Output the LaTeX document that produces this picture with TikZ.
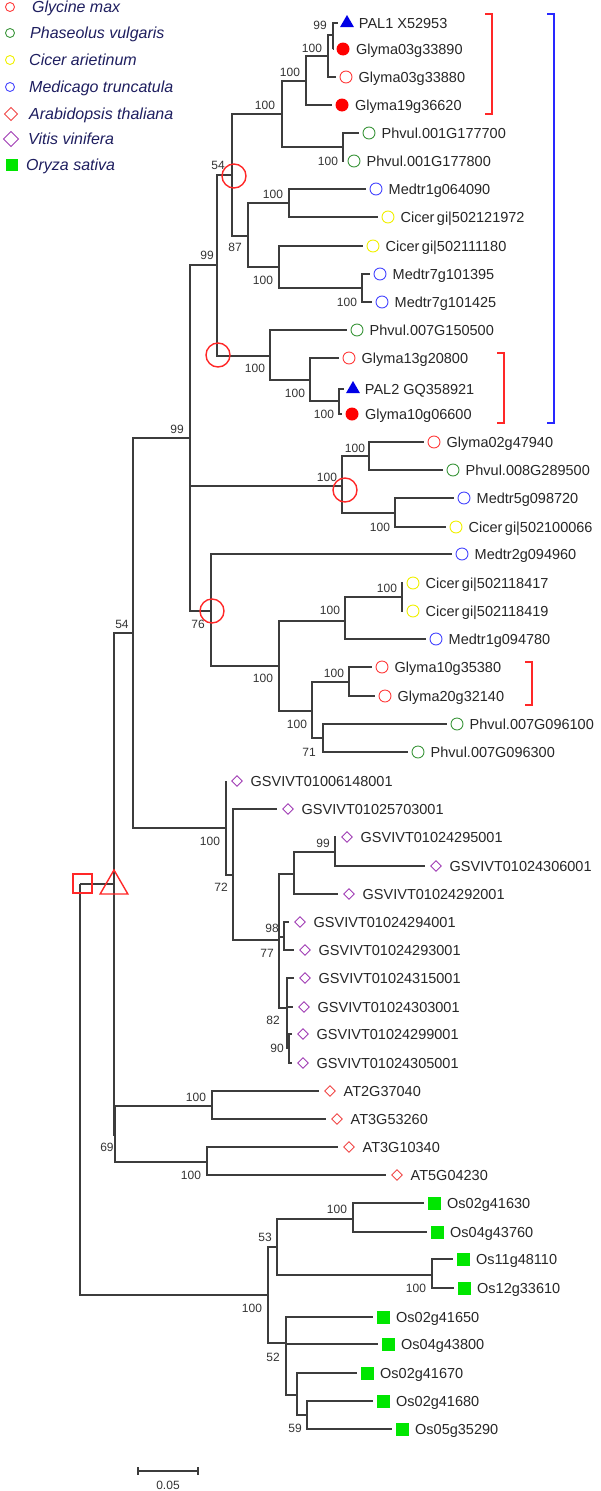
\documentclass[tikz,border=0pt]{standalone}
\usepackage{fontspec}
\setmainfont{Liberation Sans}
\usetikzlibrary{shapes.geometric}
\definecolor{glyred}{RGB}{255,60,60}
\definecolor{phagreen}{RGB}{60,150,60}
\definecolor{cicyellow}{RGB}{240,240,0}
\definecolor{medblue}{RGB}{70,70,255}
\definecolor{arared}{RGB}{240,70,70}
\definecolor{vitpurple}{RGB}{160,60,180}
\definecolor{orygreen}{RGB}{0,230,0}
\definecolor{palblue}{RGB}{0,0,230}
\definecolor{legnavy}{RGB}{30,30,95}
\definecolor{branchgray}{RGB}{60,60,60}
\definecolor{markred}{RGB}{255,40,40}
\definecolor{clblue}{RGB}{40,40,255}
\begin{document}
\begin{tikzpicture}[x=1pt,y=-1pt,
  branch/.style={draw=branchgray,line width=1.1pt},
  leafsym/.style={inner sep=0pt,outer sep=4pt,line width=0.9pt},
  glyO/.style={leafsym,circle,draw=glyred,minimum size=12pt},
  glyF/.style={leafsym,circle,fill=red,minimum size=13pt},
  phaO/.style={leafsym,circle,draw=phagreen,minimum size=12pt},
  cicO/.style={leafsym,circle,draw=cicyellow,minimum size=12pt},
  medO/.style={leafsym,circle,draw=medblue,minimum size=12pt},
  araD/.style={leafsym,diamond,draw=arared,minimum size=14pt},
  vitD/.style={leafsym,diamond,draw=vitpurple,minimum size=14pt},
  oryS/.style={leafsym,rectangle,fill=orygreen,minimum size=13pt},
  palT/.style={leafsym,regular polygon,regular polygon sides=3,fill=palblue,minimum size=16pt},
  taxon/.style={anchor=west,inner sep=2.5pt,text height=10.4pt,text depth=0pt,text=black!85,font=\fontsize{14.5}{16}\selectfont},
  boot/.style={inner sep=0pt,text height=8.6pt,text depth=0pt,text=black!80,font=\fontsize{12}{14}\selectfont},
  legtext/.style={anchor=west,inner sep=0pt,text height=11.5pt,text depth=0pt,text=legnavy,font=\fontsize{16}{18}\selectfont\itshape},
  bigO/.style={circle,draw=markred,line width=1.4pt,minimum size=24pt,inner sep=0pt},
  bigS/.style={rectangle,draw=markred,line width=1.4pt,minimum size=19pt,inner sep=0pt},
  bigT/.style={regular polygon,regular polygon sides=3,draw=markred,line width=1.4pt,minimum size=32pt,inner sep=0pt},
  clade/.style={line width=1.6pt}]
\useasboundingbox (0,0) rectangle (600,1491);

% legend
\foreach \s/\sz/\x/\y/\tx/\t [count=\i] in {glyO/9/10/7/32/Glycine max,phaO/9/10/33/30/Phaseolus vulgaris,
  cicO/9/10/60/29/Cicer arietinum,medO/9/10/87/29/Medicago truncatula,araD/13/11/114/29/Arabidopsis thaliana,
  vitD/15/11/139/28/Vitis vinifera,oryS/12/12/165/26/Oryza sativa}{
  \node[\s,minimum size=\sz pt,outer sep=0pt] (key\i) at (\x,\y) {};
  \node[legtext] (keytext\i) at (\tx,\y) {\t};
}

% internal nodes
\foreach \n/\x/\y in {nPAL1/333/35,n100a/328/56,n100b/306/81,nPh1/343/147,n100c/282/114,nA/232/175,
  n87/248/236,nM/289/203,nC/279/267,nMed7/362/288,n99a/217/265,nP/270/356,nG/310/380,nPAL2/339/401,
  nQ/342/486,nQ1/369/456,nQ2/395/513,n76/211/611,nR/279/666,nS/345/621,nCic/402/597,nT/312/711,
  nU/349/682,nV/323/738,n99b/190/438,n54b/133/633,nVit/226/828,nW/233/875,nX/279/940,nY/294/874,
  n99c/335/852,n98/284/937,n82/287/1008,n90/289/1048,nTri/114/884,n69/115/1135,nAT1/212/1106,
  nAT2/207/1162,nRoot/80/884,nOs/268/1295,n53/277/1247,nOs1/353/1219,nOs2/432/1275,n52/286/1343,
  nOs3/297/1395,n59/307/1415}
  \coordinate (\n) at (\x,\y);

% leaves
\foreach \n/\s/\x/\y/\t in {pal1/palT/347/23/PAL1 X52953,g1/glyF/343/49/Glyma03g33890,g2/glyO/346/77/Glyma03g33880,
  g3/glyF/342/105/Glyma19g36620,p1/phaO/369/133/Phvul.001G177700,p2/phaO/354/161/Phvul.001G177800,
  m1/medO/376/189/Medtr1g064090,c1/cicO/388/217/Cicer\,gi|502121972,c2/cicO/373/246/Cicer\,gi|502111180,
  m2/medO/380/274/Medtr7g101395,m3/medO/382/302/Medtr7g101425,p3/phaO/357/330/Phvul.007G150500,
  g4/glyO/349/358/Glyma13g20800,pal2/palT/353/389/PAL2 GQ358921,g5/glyF/352/414/Glyma10g06600,
  g6/glyO/434/442/Glyma02g47940,p4/phaO/453/470/Phvul.008G289500,m4/medO/464/498/Medtr5g098720,
  c3/cicO/456/527/Cicer\,gi|502100066,m5/medO/462/554/Medtr2g094960,c4/cicO/413/583/Cicer\,gi|502118417,
  c5/cicO/413/611/Cicer\,gi|502118419,m6/medO/436/639/Medtr1g094780,g7/glyO/382/667/Glyma10g35380,
  g8/glyO/385/696/Glyma20g32140,p5/phaO/457/724/Phvul.007G096100,p6/phaO/418/752/Phvul.007G096300,
  v1/vitD/237/781/GSVIVT01006148001,v2/vitD/288/809/GSVIVT01025703001,v3/vitD/347/837/GSVIVT01024295001,
  v4/vitD/436/866/GSVIVT01024306001,v5/vitD/349/894/GSVIVT01024292001,v6/vitD/300/922/GSVIVT01024294001,
  v7/vitD/305/950/GSVIVT01024293001,v8/vitD/305/978/GSVIVT01024315001,v9/vitD/304/1007/GSVIVT01024303001,
  v10/vitD/303/1034/GSVIVT01024299001,v11/vitD/303/1063/GSVIVT01024305001,a1/araD/330/1091/AT2G37040,
  a2/araD/337/1119/AT3G53260,a3/araD/349/1147/AT3G10340,a4/araD/397/1175/AT5G04230,
  o1/oryS/434/1203/Os02g41630,o2/oryS/437/1232/Os04g43760,o3/oryS/463/1259/Os11g48110,
  o4/oryS/464/1288/Os12g33610,o5/oryS/383/1317/Os02g41650,o6/oryS/388/1344/Os04g43800,
  o7/oryS/367/1373/Os02g41670,o8/oryS/383/1401/Os02g41680,o9/oryS/402/1429/Os05g35290}{
  \node[\s] (\n) at (\x,\y) {};
  \node[taxon] (\n-t) at (\n.east) {\t};
}

% branches
\foreach \p/\c in {nPAL1/pal1,nPAL1/g1,n100a/nPAL1,n100a/g2,n100b/n100a,n100b/g3,nPh1/p1,nPh1/p2,
  n100c/n100b,n100c/nPh1,nM/m1,nM/c1,nMed7/m2,nMed7/m3,nC/c2,nC/nMed7,n87/nM,n87/nC,nA/n100c,nA/n87,
  nPAL2/pal2,nPAL2/g5,nG/g4,nG/nPAL2,nP/p3,nP/nG,n99a/nA,n99a/nP,nQ1/g6,nQ1/p4,nQ2/m4,nQ2/c3,
  nQ/nQ1,nQ/nQ2,nCic/c4,nCic/c5,nS/nCic,nS/m6,nU/g7,nU/g8,nV/p5,nV/p6,nT/nU,nT/nV,nR/nS,nR/nT,
  n76/m5,n76/nR,n99b/n99a,n99b/nQ,n99b/n76,n99c/v3,n99c/v4,nY/n99c,nY/v5,n98/v6,n98/v7,n90/v10,
  n90/v11,n82/v8,n82/v9,n82/n90,nX/nY,nX/n98,nX/n82,nW/v2,nW/nX,nVit/v1,nVit/nW,n54b/n99b,
  n54b/nVit,nAT1/a1,nAT1/a2,nAT2/a3,nAT2/a4,n69/nAT1,n69/nAT2,nTri/n54b,nTri/n69,nOs1/o1,nOs1/o2,
  nOs2/o3,nOs2/o4,n53/nOs1,n53/nOs2,n59/o8,n59/o9,nOs3/o7,nOs3/n59,n52/o5,n52/o6,n52/nOs3,
  nOs/n53,nOs/n52,nRoot/nTri,nRoot/nOs}
  \draw[branch] (\p) |- (\c);

% bootstrap values
\foreach \x/\y/\t [count=\i] in {320/25/99,312/48/100,290/72/100,265/105/100,328/161/100,218/165/54,
  273/194/100,235/247/87,263/280/100,347/302/100,207/255/99,255/368/100,295/393/100,324/414/100,
  177/429/99,327/477/100,355/448/100,380/527/100,198/624/76,263/678/100,330/610/100,387/588/100,
  297/724/100,334/673/100,309/752/71,122/624/54,210/841/100,221/887/72,323/843/99,272/928/98,
  267/953/77,273/1020/82,277/1048/90,107/1147/69,196/1097/100,191/1175/100,252/1308/100,
  265/1237/53,337/1209/100,416/1288/100,273/1357/52,295/1428/59}
  \node[boot] (bs\i) at (\x,\y) {\t};

% markers
\node[bigO] (mk1) at (234,176) {};
\node[bigO] (mk2) at (218,355) {};
\node[bigO] (mk3) at (345,490) {};
\node[bigO] (mk4) at (212,611) {};
\node[bigS] (mk5) at (82.5,883.5) {};
\node[bigT] (mk6) at (114,886) {};

% clade brackets
\draw[clade,draw=markred] (485,14) -- (492,14) -- (492,114) -- (485,114);
\draw[clade,draw=clblue] (547,14) -- (554,14) -- (554,423) -- (547,423);
\draw[clade,draw=markred] (497,353) -- (504,353) -- (504,423) -- (497,423);
\draw[clade,draw=markred] (525,662) -- (532,662) -- (532,705) -- (525,705);

% scale bar
\draw[branch] (138,1467) -- (138,1475) (138,1471) -- (198,1471) (198,1467) -- (198,1475);
\node[boot] (scale) at (168,1485) {0.05};
\end{tikzpicture}
\end{document}
